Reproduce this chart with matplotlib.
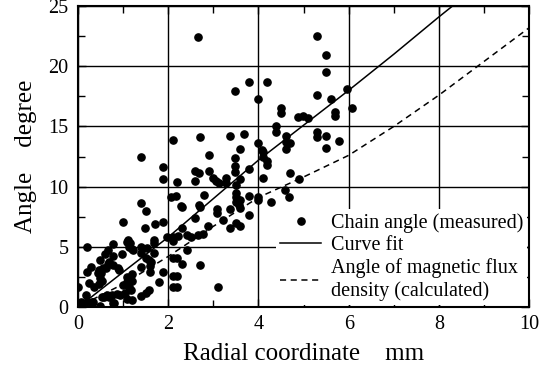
import matplotlib
matplotlib.use("Agg")
import matplotlib.pyplot as plt
from matplotlib.ticker import MultipleLocator

plt.rcParams['font.family'] = ['Liberation Serif', 'DejaVu Serif']

# measured chain angle (radial coordinate mm, angle degree)
meas_x = [2.65, 5.29, 5.49, 5.49, 3.49, 3.78, 4.18, 3.98, 5.29, 5.6, 5.97,
          4.49, 4.49, 4.87, 4.98, 5.09, 5.69, 5.69, 6.08,
          4.38, 4.38, 4.60, 4.60, 4.69, 4.60, 5.29, 5.29, 5.49, 5.78, 5.49,
          4.09, 4.09, 4.20, 4.20, 4.09, 4.69, 4.89, 4.58, 4.67, 4.27, 4.0, 5.0,
          2.10, 2.70, 3.38, 3.69, 3.58, 4.0, 2.90, 3.49, 3.49, 3.49, 3.78, 4.07,
          1.39, 1.88, 1.88, 1.39, 1.5,
          2.59, 2.68, 2.9, 2.59, 2.99, 3.05, 3.12, 3.27, 3.27, 3.58, 3.5, 2.19,
          2.17, 2.06, 2.79, 3.5, 3.5, 3.78, 2.28, 2.68, 2.70, 3.5, 3.56, 3.58, 3.58,
          2.59, 3.08, 3.08, 3.21, 3.38, 3.5, 3.58, 3.38, 3.78, 4.0, 2.77, 2.88, 2.65,
          2.1, 2.1, 2.21, 2.3, 2.41, 2.5, 2.3,
          2.1, 2.19, 2.3, 2.41, 2.70, 2.1, 2.19, 2.1, 2.19, 3.1,
          1.0, 1.48, 1.70, 1.88, 1.68, 1.97, 1.08, 1.13, 0.77, 0.66, 0.6, 0.2,
          0.97, 1.39, 1.5, 1.57, 1.68, 1.61, 0.69, 0.77, 0.62, 0.46, 0.29, 0.2,
          0.51, 0.53, 0.24, 0.35, 0.0, 1.08, 1.19, 1.0, 1.13, 1.88, 1.79, 1.57,
          1.5, 1.39, 0.07, 0.2, 0.31, 0.49, 0.57, 0.69, 0.75, 0.86, 0.8, 1.08, 1.19,
          1.39, 1.59, 1.59, 1.68, 1.39, 1.52, 1.22, 1.19, 1.08, 1.17, 1.04, 0.93,
          0.64, 0.53, 0.44, 0.49, 0.49, 0.77, 0.66, 0.55, 0.88, 0.92, 1.1, 1.15,
          1.19, 0.46, 0.18, 0.09, 0.33, 0.77]
meas_y = [22.4, 22.5, 20.9, 19.5, 17.95, 18.7, 18.7, 17.3, 17.6, 17.3, 18.1,
          16.5, 16.1, 15.8, 15.9, 15.7, 16.2, 15.9, 16.5,
          15.0, 14.5, 14.2, 13.7, 13.6, 13.1, 14.5, 14.1, 14.2, 13.8, 13.2,
          12.9, 12.5, 12.1, 11.8, 10.7, 11.1, 10.6, 9.7, 9.1, 8.7, 9.1, 7.6,
          13.9, 14.1, 14.2, 14.4, 13.1, 13.6, 12.6, 12.4, 11.7, 11.2, 11.5, 13.0,
          12.5, 11.6, 10.6, 8.6, 8.0,
          11.3, 11.1, 11.3, 10.5, 10.7, 10.5, 10.3, 10.7, 10.3, 10.6, 10.1, 10.4,
          9.2, 9.1, 9.3, 9.5, 9.1, 9.2, 8.4, 8.5, 8.3, 8.7, 8.5, 8.9, 8.2,
          7.4, 8.1, 7.8, 7.2, 8.1, 7.0, 6.7, 6.6, 7.6, 8.9, 6.1, 6.7, 6.0,
          5.8, 5.5, 5.9, 6.6, 6.0, 5.8, 8.3,
          4.1, 4.1, 3.6, 4.7, 3.5, 2.6, 2.6, 1.7, 1.7, 1.7,
          7.1, 6.6, 6.9, 7.1, 5.6, 5.8, 5.4, 5.0, 5.2, 4.7, 4.4, 5.0,
          4.4, 4.5, 4.1, 3.9, 4.5, 3.7, 3.7, 3.5, 3.2, 3.1, 3.3, 2.9,
          2.8, 2.2, 2.0, 1.7, 1.7, 2.5, 2.7, 1.8, 1.7, 2.9, 2.1, 1.4,
          1.2, 0.9, 0.4, 0.4, 0.4, 0.1, 0.8, 0.8, 1.0, 1.1, 0.3, 0.7, 0.6,
          3.3, 3.4, 2.9, 5.3, 5.0, 4.9, 4.7, 2.2, 2.1, 1.4, 1.2, 1.0,
          1.0, 0.8, 2.8, 2.4, 3.9, 4.2, 3.6, 3.2, 3.2, 3.1, 5.6, 5.3,
          4.8, 1.9, 1.0, 0.3, 0.4, 0.3]

# curve fit
fit_x = [0.15, 1, 2, 3, 4, 5, 6, 7, 8, 8.6]
fit_y = [0.4, 2.9, 5.8, 9.0, 12.2, 15.1, 18.0, 21.0, 24.1, 25.9]

# angle of magnetic flux density (calculated)
calc_x = [0.1, 1, 2, 3, 4, 5, 6, 7, 8, 9, 10]
calc_y = [0.2, 1.9, 4.2, 6.7, 9.1, 10.8, 12.6, 15.0, 17.6, 20.4, 23.2]

fig = plt.figure(figsize=(5.4, 3.77), dpi=100)
ax = fig.add_axes([0.1444, 0.1857, 0.8356, 0.7983])

ax.grid(True, color='black', linewidth=1.0)
ax.set_axisbelow(True)

ax.plot(meas_x, meas_y, 'o', color='black', markersize=5.2, linestyle='none',
        label='Chain angle (measured)', zorder=3)
ax.plot(fit_x, fit_y, '-', color='black', linewidth=1.1, label='Curve fit', zorder=3)
ax.plot(calc_x, calc_y, '--', color='black', linewidth=1.1, dashes=(4, 3),
        label='Angle of magnetic flux\ndensity (calculated)', zorder=3)

ax.set_xlim(0, 10)
ax.set_ylim(0, 25)
ax.xaxis.set_major_locator(MultipleLocator(2))
ax.xaxis.set_minor_locator(MultipleLocator(1))
ax.yaxis.set_major_locator(MultipleLocator(5))
ax.yaxis.set_minor_locator(MultipleLocator(2.5))
ax.tick_params(which='both', direction='in', top=True, right=True, labelsize=14.5,
               width=1.0)
ax.tick_params(which='major', length=6)
ax.tick_params(which='minor', length=5)
ax.tick_params(axis='x', which='major', pad=6)
ax.tick_params(axis='y', which='major', pad=7)
for sp in ax.spines.values():
    sp.set_linewidth(1.5)

ax.set_xlabel('Radial coordinate    mm', fontsize=18, labelpad=6)
ax.set_ylabel('Angle    degree', fontsize=18, labelpad=8)

leg = ax.legend(loc='lower right', fontsize=14.5, frameon=True, fancybox=False,
                edgecolor='none', facecolor='white', framealpha=1,
                handlelength=2.0, handletextpad=0.5, borderaxespad=0.1,
                borderpad=0.2, labelspacing=0.15)
leg.set_zorder(4)

fig.savefig('out.png', dpi=100)
